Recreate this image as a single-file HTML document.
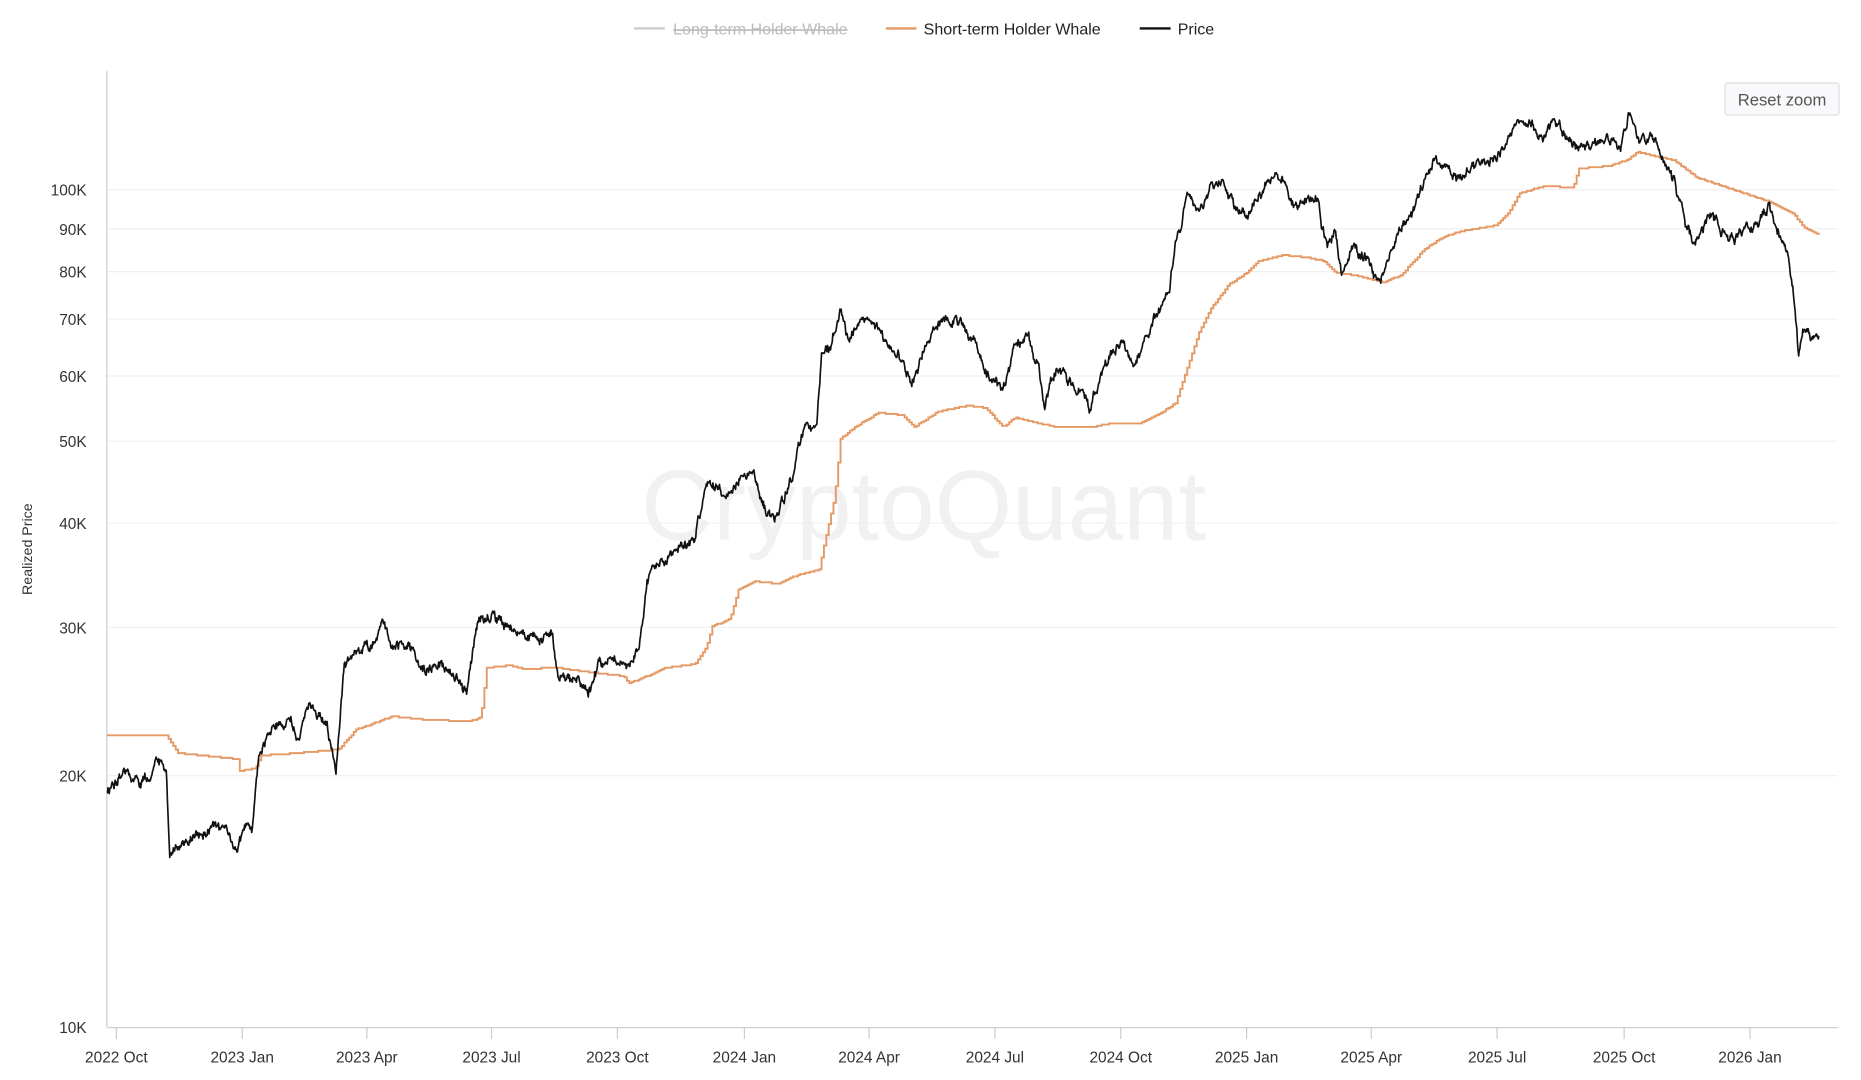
<!DOCTYPE html>
<html><head><meta charset="utf-8"><style>
html,body{margin:0;padding:0;background:#fff;}
svg{display:block;font-family:"Liberation Sans",sans-serif;}
</style></head><body>
<svg id="c" width="1861" height="1080" viewBox="0 0 1567.5 910.6" preserveAspectRatio="none">
<text x="778" y="455" text-anchor="middle" font-size="84" fill="#f1f1f3">CryptoQuant</text>
<g stroke="#f0f0f0" stroke-width="1">
<line x1="90" x2="1548" y1="160" y2="160"/><line x1="90" x2="1548" y1="193" y2="193"/>
<line x1="90" x2="1548" y1="229" y2="229"/><line x1="90" x2="1548" y1="269" y2="269"/>
<line x1="90" x2="1548" y1="317" y2="317"/><line x1="90" x2="1548" y1="372" y2="372"/>
<line x1="90" x2="1548" y1="441" y2="441"/><line x1="90" x2="1548" y1="529" y2="529"/>
<line x1="90" x2="1548" y1="654" y2="654"/>
</g>
<line x1="90" x2="90" y1="60" y2="866" stroke="#ccc"/>
<line x1="90" x2="1548" y1="866.5" y2="866.5" stroke="#ccc"/>
<g font-size="13" fill="#333" text-anchor="end">
<text x="73" y="165">100K</text><text x="73" y="198">90K</text><text x="73" y="234">80K</text>
<text x="73" y="274">70K</text><text x="73" y="322">60K</text><text x="73" y="377">50K</text>
<text x="73" y="446">40K</text><text x="73" y="534">30K</text><text x="73" y="659">20K</text>
<text x="73" y="871">10K</text>
</g>
<text transform="translate(27,463) rotate(-90)" font-size="12" fill="#333" text-anchor="middle">Realized Price</text>
<g id="xt" font-size="13" fill="#333" text-anchor="middle"></g>
<g font-size="13.5">
<line x1="534" x2="560" y1="24" y2="24" stroke="#ccc" stroke-width="2"/>
<text x="567" y="29" fill="#bbb" text-decoration="line-through">Long-term Holder Whale</text>
<line x1="746" x2="772" y1="24" y2="24" stroke="#e59a66" stroke-width="2"/>
<text x="778" y="29" fill="#222">Short-term Holder Whale</text>
<line x1="960" x2="986" y1="24" y2="24" stroke="#111" stroke-width="2"/>
<text x="992" y="29" fill="#222">Price</text>
</g>
<rect x="1453" y="70" width="96" height="27" rx="2" fill="#f9f9fb" stroke="#dcdce0"/>
<text x="1501" y="89" font-size="14" fill="#555" text-anchor="middle">Reset zoom</text>
<path id="o" fill="none" stroke="#e59a66" stroke-width="1.6"/>
<path id="p" fill="none" stroke="#111" stroke-width="1.4" stroke-linejoin="round"/>
</svg>
<script>
var ns="http://www.w3.org/2000/svg";
var lab=[["2022 Oct",98],["2023 Jan",204],["2023 Apr",309],["2023 Jul",414],["2023 Oct",520],["2024 Jan",627],["2024 Apr",732],["2024 Jul",838],["2024 Oct",944],["2025 Jan",1050],["2025 Apr",1155],["2025 Jul",1261],["2025 Oct",1368],["2026 Jan",1474]];
var g=document.getElementById("xt");
lab.forEach(function(l){var t=document.createElementNS(ns,"text");t.setAttribute("x",l[1]);t.setAttribute("y",896);t.textContent=l[0];g.appendChild(t);
var k=document.createElementNS(ns,"line");k.setAttribute("x1",l[1]);k.setAttribute("x2",l[1]);k.setAttribute("y1",866);k.setAttribute("y2",876);k.setAttribute("stroke","#ccc");g.appendChild(k);});
function interp(pts,x){for(var i=1;i<pts.length;i++){if(x<=pts[i][0]){var a=pts[i-1],b=pts[i];return a[1]+(b[1]-a[1])*(x-a[0])/(b[0]-a[0]);}}return pts[pts.length-1][1];}
var P=[[90,670],[100,650],[120,660],[135,640],[140,645],[143,720],[160,710],[180,695],[200,710],[212,700],[218,640],[230,610],[245,605],[252,625],[260,595],[275,610],[283,650],[290,560],[300,550],[315,545],[322,525],[330,545],[345,540],[355,565],[370,560],[385,570],[393,580],[400,540],[405,520],[415,520],[425,530],[440,535],[465,535],[470,570],[485,575],[498,580],[505,560],[520,555],[530,560],[538,545],[545,490],[550,480],[565,470],[575,460],[585,455],[595,410],[605,415],[615,420],[625,400],[635,395],[640,420],[652,440],[660,420],[670,390],[678,360],[688,360],[692,300],[700,290],[708,260],[715,290],[725,270],[735,265],[745,290],[760,305],[768,320],[775,300],[790,270],[805,268],[815,285],[825,300],[835,320],[845,330],[855,290],[865,280],[875,310],[880,345],[890,310],[900,320],[910,330],[918,345],[925,320],[935,300],[945,285],[955,310],[965,285],[975,260],[985,245],[990,200],[995,190],[1000,160],[1010,175],[1020,160],[1030,150],[1040,175],[1050,185],[1060,165],[1070,150],[1080,155],[1090,170],[1100,170],[1110,170],[1118,210],[1125,195],[1130,230],[1140,210],[1150,215],[1163,240],[1170,215],[1180,190],[1190,180],[1200,150],[1210,135],[1220,145],[1230,150],[1240,140],[1255,135],[1270,120],[1275,108],[1290,105],[1300,115],[1310,102],[1320,115],[1330,125],[1345,120],[1360,115],[1365,130],[1373,93],[1380,120],[1390,115],[1400,130],[1410,150],[1420,190],[1427,205],[1435,190],[1445,185],[1455,200],[1465,200],[1475,190],[1482,180],[1490,175],[1497,195],[1505,210],[1512,260],[1515,300],[1520,275],[1525,285],[1532,280]];
var O=[[90,620],[140,620],[150,635],[200,640],[202,650],[215,648],[220,637],[250,635],[285,632],[300,615],[320,608],[330,604],[360,607],[395,608],[405,605],[410,563],[430,561],[440,564],[470,563],[490,566],[525,570],[530,576],[545,570],[560,563],[585,560],[595,545],[600,528],[615,522],[622,497],[635,490],[655,492],[665,487],[690,480],[695,455],[703,420],[708,370],[720,360],[740,348],[760,350],[770,360],[790,347],[815,342],[830,344],[845,360],[855,352],[875,357],[890,360],[920,360],[935,357],[960,357],[975,350],[990,340],[1000,310],[1010,280],[1020,260],[1035,240],[1050,230],[1060,220],[1080,215],[1100,217],[1115,220],[1125,230],[1140,232],[1165,238],[1180,232],[1200,210],[1215,200],[1230,195],[1260,190],[1270,180],[1280,163],[1300,157],[1325,158],[1330,142],[1355,140],[1370,135],[1380,128],[1395,132],[1410,135],[1430,150],[1460,160],[1490,170],[1510,180],[1520,192],[1533,198]];
var s=12345;function r(){s=(s*16807)%2147483647;return s/2147483647;}
var d="",n=0;
for(var x=90;x<=1532;x+=0.5){n=n*0.8+(r()-0.5)*6;var y=interp(P,x)+n+(r()-0.5)*3;d+=(x==90?"M":"L")+x+" "+y.toFixed(1);}
document.getElementById("p").setAttribute("d",d);
var e="",py=null;
for(var x=90;x<=1533;x+=2){var y=interp(O,x);y=Math.round(y);if(py===null)e="M"+x+" "+y;else e+="L"+x+" "+py+"L"+x+" "+y;py=y;}
document.getElementById("o").setAttribute("d",e);
</script>
</body></html>
